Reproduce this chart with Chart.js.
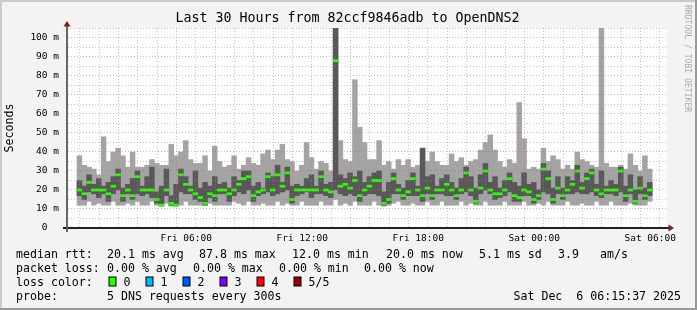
<!DOCTYPE html>
<html>
<head>
<meta charset="utf-8">
<title>Last 30 Hours from 82ccf9846adb to OpenDNS2</title>
<script src="https://cdn.jsdelivr.net/npm/chart.js@4.4.0/dist/chart.umd.min.js"></script>
<style>
  html, body { margin: 0; padding: 0; background: #f3f3f3; }
  #wrap { width: 697px; height: 310px; }
</style>
</head>
<body>
<div id="wrap"><canvas id="smokeChart" width="697" height="310"></canvas></div>
<script>
// smokeping style latency graph, 5 DNS pings per step

// time axis in minutes after Fri 00:00, one column per 15 minutes
const startMinute = 21;
const endMinute = 1821;
const stepMinutes = 15;

// x axis labels
const labelMinutes = [360, 720, 1080, 1440, 1800];
const labelTexts = ['Fri 06:00', 'Fri 12:00', 'Fri 18:00', 'Sat 00:00', 'Sat 06:00'];

// rtt in ms, sorted pings: 1 = fastest, 5 = slowest
const minRtt = [
  12, 12, 14, 12, 13, 12, 12, 14, 12, 12,
  13, 12, 14, 12, 12, 14, 12, 11.5, 13, 11.5,
  11.5, 12, 14, 12, 12, 12, 12, 13, 12, 12,
  12, 12, 14, 13, 12, 14, 12, 12, 13, 12,
  12, 14, 12, 13, 12, 12, 14, 12, 12, 12,
  14, 12, 12, 15, 12, 13, 12, 14, 12, 12,
  12, 14, 12, 11.5, 12, 13, 14, 12, 12, 13,
  12, 12, 14, 12, 12, 14, 12, 12, 12, 14,
  12, 13, 12, 12, 14, 12, 12, 12, 14, 12,
  12, 12, 14, 12, 12, 13, 12, 14, 12, 12,
  12, 14, 12, 12, 13, 12, 12, 14, 12, 12,
  14, 12, 12, 12, 13, 12, 12, 12, 14
];
const lowRtt = [
  17, 15, 19, 18, 16, 18, 14, 18, 20, 14,
  18, 15, 18, 17, 18, 16, 13, 12, 17, 12,
  12, 19, 18, 18, 15, 14, 12, 16, 14, 18,
  18, 14, 17, 19, 18, 20, 14, 17, 18, 19,
  17, 18, 19, 20, 13, 17, 18, 19, 16, 18,
  18, 17, 16, 20, 18, 17, 18, 17, 14, 17,
  18, 18, 17, 12, 13, 18, 18, 15, 17, 17,
  17, 14, 18, 15, 18, 18, 17, 17, 15, 18,
  19, 17, 13, 18, 20, 18, 15, 16, 17, 19,
  14, 14, 17, 17, 13, 15, 19, 18, 13, 18,
  15, 18, 18, 19, 18, 18, 19, 17, 16, 18,
  18, 17, 19, 14, 18, 13, 18, 15, 17
];
const medianRtt = [
  20, 18, 24, 20, 20, 20, 18, 22, 28, 17,
  20, 17, 27, 20, 20, 20, 15, 12, 20, 13,
  12, 28, 23, 20, 18, 16, 13, 18, 17, 20,
  20, 18, 20, 23, 26, 27, 17, 19, 20, 27,
  20, 28, 22, 29, 15, 20, 20, 20, 20, 20,
  27, 20, 19, 88, 22, 23, 21, 25, 17, 20,
  22, 25, 25, 13, 15, 26, 20, 17, 19, 26,
  20, 17, 21, 17, 20, 20, 23, 20, 17, 20,
  29, 20, 14, 21, 30, 20, 18, 18, 20, 26,
  17, 16, 20, 19, 15, 17, 31, 26, 15, 21,
  17, 20, 23, 30, 21, 26, 29, 20, 18, 20,
  20, 20, 30, 17, 20, 14, 21, 17, 20
];
const highRtt = [
  25, 22, 28, 23, 26, 22, 24, 27, 31, 21,
  23, 26, 30, 22, 27, 32, 19, 22, 31, 17,
  23, 31, 27, 22, 30, 21, 24, 22, 27, 23,
  24, 21, 27, 25, 30, 30, 22, 24, 21, 29,
  27, 33, 24, 32, 22, 23, 22, 26, 28, 22,
  30, 23, 24, 108, 28, 26, 29, 27, 30, 24,
  27, 29, 30, 19, 24, 29, 23, 21, 25, 29,
  22, 42, 27, 28, 22, 26, 28, 24, 21, 26,
  32, 27, 21, 28, 34, 24, 27, 21, 25, 29,
  24, 22, 29, 23, 24, 20, 34, 30, 21, 27,
  21, 27, 25, 33, 24, 29, 31, 23, 30, 22,
  25, 23, 32, 22, 28, 20, 27, 21, 24
];
const maxRtt = [
  38, 33, 32, 31, 28, 48, 35, 40, 42, 38,
  32, 40, 32, 32, 33, 36, 34, 33, 33, 44,
  38, 40, 46, 36, 34, 34, 38, 30, 43, 35,
  32, 33, 38, 31, 33, 37, 34, 33, 39, 41,
  36, 41, 44, 36, 35, 30, 33, 45, 37, 31,
  35, 34, 30, 108, 46, 36, 35, 78, 53, 45,
  36, 36, 46, 33, 35, 31, 36, 33, 36, 32,
  33, 42, 35, 40, 35, 33, 33, 39, 35, 37,
  33, 35, 36, 41, 45, 49, 41, 35, 32, 36,
  34, 66, 47, 31, 32, 31, 42, 35, 38, 36,
  31, 33, 31, 40, 36, 35, 33, 32, 108, 34,
  32, 32, 33, 31, 39, 33, 30, 38, 31
];

// legend texts
const rttStats = ['20.1 ms avg', '87.8 ms max', '12.0 ms min', '20.0 ms now', '5.1 ms sd', '3.9', 'am/s'];
const lossStats = ['0.00 % avg', '0.00 % max', '0.00 % min', '0.00 % now'];
const lossLabels = ['0', '1', '2', '3', '4', '5/5'];
const lossColors = ['#26ff00', '#00b8ff', '#0059ff', '#7e00ff', '#ff0000', '#a10000'];
const probeText = '5 DNS requests every 300s';
const stampText = 'Sat Dec  6 06:15:37 2025';

const MONO = '"DejaVu Sans Mono", monospace';
const GRID = 'rgba(143, 143, 143, 0.5)';
const MGRID = 'rgba(222, 80, 80, 0.45)';

// column centre for step i
function colX(i) {
    return startMinute + i * stepMinutes + stepMinutes / 2;
}

function band(lo, hi) {
    return lo.map((v, i) => ({ x: colX(i), y: [v, hi[i]] }));
}

// extra drawing: frame, arrows, legend and watermark
const rrdDecor = {
    id: 'rrdDecor',
    beforeDraw(chart) {
        const { ctx, chartArea: a, width, height } = chart;
        ctx.save();
        ctx.fillStyle = '#f3f3f3';
        ctx.fillRect(0, 0, width, height);
        ctx.fillStyle = '#cbcbcb';
        ctx.fillRect(0, 0, width, 2);
        ctx.fillRect(0, 0, 2, height);
        ctx.fillStyle = '#999999';
        ctx.fillRect(0, height - 2, width, 2);
        ctx.fillRect(width - 2, 0, 2, height);
        ctx.fillStyle = '#ffffff';
        ctx.fillRect(a.left, a.top, a.right - a.left, a.bottom - a.top);
        ctx.restore();
    },
    afterDraw(chart) {
        const { ctx, chartArea: a } = chart;
        ctx.save();

        // axis stubs and arrows
        ctx.fillStyle = '#202020';
        ctx.fillRect(a.left - 4, a.bottom - 1, 4, 2);
        ctx.fillRect(a.right, a.bottom - 1, 2, 2);
        ctx.fillStyle = '#666666';
        ctx.fillRect(a.left - 1, a.bottom, 2, 4);
        ctx.fillRect(a.left - 1, a.top - 2, 2, 2);
        ctx.fillStyle = '#7f1f1f';
        ctx.beginPath();
        ctx.moveTo(a.left - 3.5, a.top - 1.5);
        ctx.lineTo(a.left + 3.5, a.top - 1.5);
        ctx.lineTo(a.left, a.top - 7);
        ctx.closePath();
        ctx.fill();
        ctx.beginPath();
        ctx.moveTo(a.right + 1.5, a.bottom - 3.5);
        ctx.lineTo(a.right + 1.5, a.bottom + 3.5);
        ctx.lineTo(a.right + 7, a.bottom);
        ctx.closePath();
        ctx.fill();

        // legend
        ctx.font = '11.6px ' + MONO;
        ctx.fillStyle = '#000';
        ctx.textBaseline = 'alphabetic';
        ctx.textAlign = 'left';
        const rows = [257.5, 271.5, 285.5, 299.5];
        ctx.fillText('median rtt:', 16, rows[0]);
        const rttX = [107, 199, 292, 386, 479, 558, 600];
        rttStats.forEach((t, i) => ctx.fillText(t, rttX[i], rows[0]));
        ctx.fillText('packet loss:', 16, rows[1]);
        const lossX = [107, 193, 279, 364];
        lossStats.forEach((t, i) => ctx.fillText(t, lossX[i], rows[1]));
        ctx.fillText('loss color:', 16, rows[2]);
        lossLabels.forEach((t, i) => {
            const bx = 108.5 + i * 37;
            ctx.fillStyle = '#000';
            ctx.fillRect(bx, rows[2] - 9, 8, 10);
            ctx.fillStyle = lossColors[i];
            ctx.fillRect(bx + 1, rows[2] - 8, 6, 8);
            ctx.fillStyle = '#000';
            ctx.fillText(t, bx + 15, rows[2]);
        });
        ctx.fillText('probe:', 16, rows[3]);
        ctx.fillText(probeText, 107, rows[3]);
        ctx.textAlign = 'right';
        ctx.fillText(stampText, 681, rows[3]);

        // watermark
        ctx.translate(687, 5);
        ctx.rotate(Math.PI / 2);
        ctx.textAlign = 'left';
        ctx.textBaseline = 'middle';
        ctx.font = '8.1px ' + MONO;
        ctx.fillStyle = '#aaaaaa';
        ctx.fillText('RRDTOOL / TOBI OETIKER', 0, 0);
        ctx.restore();
    }
};

const ctx = document.getElementById('smokeChart').getContext('2d');
window.smokeChart = new Chart(ctx, {
    type: 'bar',
    data: {
        datasets: [
            {
                label: 'median',
                data: medianRtt.map((v, i) => ({ x: colX(i), y: [v - 0.55, v + 0.55] })),
                backgroundColor: lossColors[0],
                order: 0
            },
            {
                label: 'ping 2-4',
                data: band(lowRtt, highRtt),
                backgroundColor: '#585858',
                order: 1
            },
            {
                label: 'ping 1-5',
                data: band(minRtt, maxRtt),
                backgroundColor: '#a4a4a4',
                order: 2
            }
        ]
    },
    options: {
        responsive: false,
        devicePixelRatio: 1,
        animation: false,
        events: [],
        layout: {
            padding: { left: 28, right: 30, top: 0, bottom: 66 }
        },
        datasets: {
            bar: {
                grouped: false,
                barPercentage: 1,
                categoryPercentage: 1,
                borderWidth: 0,
                clip: 0
            }
        },
        plugins: {
            legend: { display: false },
            tooltip: { enabled: false },
            title: {
                display: true,
                text: 'Last 30 Hours from 82ccf9846adb to OpenDNS2',
                color: '#000',
                font: { family: MONO, size: 13.3, weight: 'normal' },
                padding: { top: 11, bottom: 1 }
            }
        },
        scales: {
            x: {
                type: 'linear',
                min: startMinute,
                max: endMinute,
                bounds: 'data',
                afterBuildTicks: (scale) => {
                    const t = [];
                    for (let m = 60; m <= 1800; m += 60) t.push({ value: m });
                    scale.ticks = t;
                },
                afterFit: (scale) => { scale.height = 16; },
                ticks: {
                    autoSkip: false,
                    maxRotation: 0,
                    padding: 5,
                    color: '#000',
                    font: { family: MONO, size: 9.5 },
                    callback: (v) => {
                        const i = labelMinutes.indexOf(v);
                        return i >= 0 ? labelTexts[i] : '';
                    }
                },
                grid: {
                    drawTicks: false,
                    z: 1,
                    color: (c) => (c.tick && c.tick.value % 180 === 0 ? MGRID : GRID)
                },
                border: { display: true, color: '#202020', width: 2, dash: [1, 2], z: 2 }
            },
            y: {
                type: 'linear',
                min: 0,
                max: 105.26,
                bounds: 'data',
                afterBuildTicks: (scale) => {
                    const t = [];
                    for (let v = 0; v <= 105; v += 5) t.push({ value: v });
                    scale.ticks = t;
                },
                afterFit: (scale) => { scale.width = 39; },
                ticks: {
                    autoSkip: false,
                    padding: 8,
                    color: '#000',
                    font: { family: MONO, size: 9.5 },
                    callback: (v) => {
                        if (v % 10 !== 0) return '';
                        return v === 0 ? '0  ' : v + ' m';
                    }
                },
                grid: {
                    drawTicks: false,
                    z: 1,
                    color: (c) => {
                        if (!c.tick || c.tick.value === 0) return 'rgba(0,0,0,0)';
                        return c.tick.value % 10 === 0 ? MGRID : GRID;
                    }
                },
                border: { display: true, color: '#666666', width: 2, dash: [1, 2], z: 2 },
                title: {
                    display: true,
                    text: 'Seconds',
                    color: '#000',
                    font: { family: MONO, size: 11.6 },
                    padding: { top: -25, bottom: 0 }
                }
            }
        }
    },
    plugins: [rrdDecor]
});
</script>
</body>
</html>
